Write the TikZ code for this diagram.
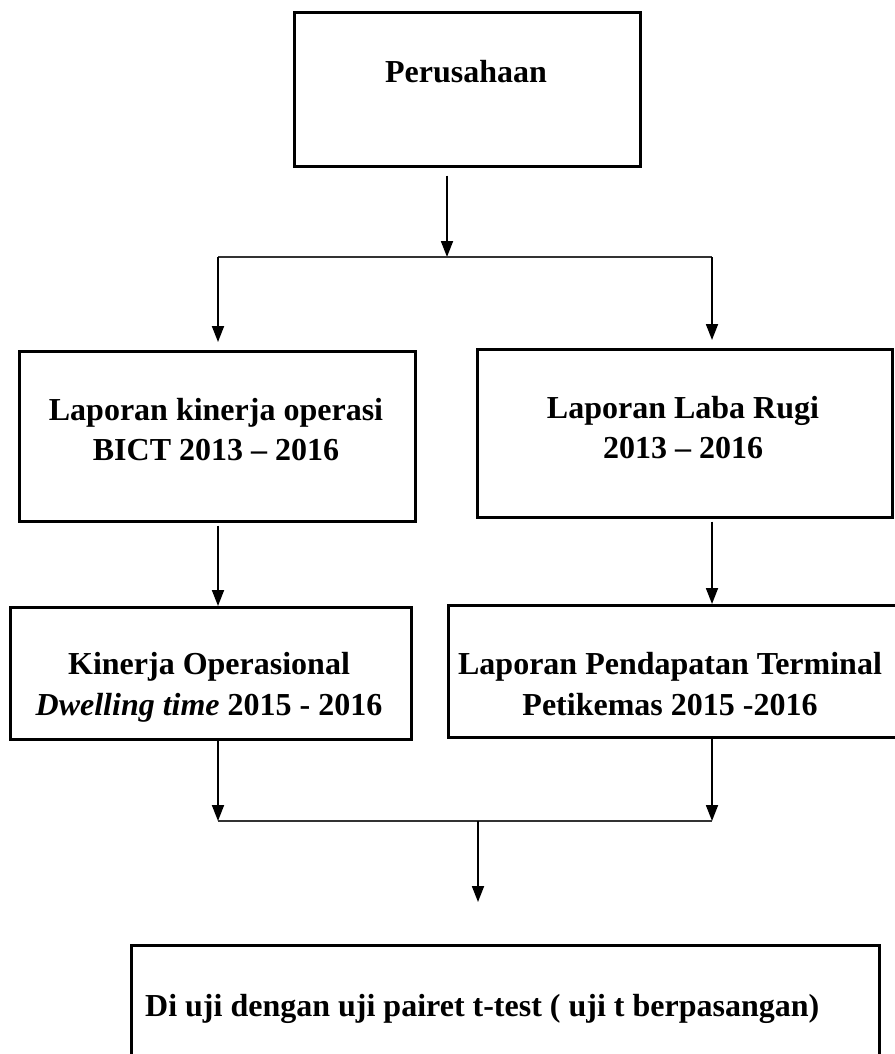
\documentclass[tikz,border=0pt]{standalone}
\usepackage{fontspec}
\setmainfont{Liberation Serif}
\usetikzlibrary{arrows.meta}
\begin{document}
\begin{tikzpicture}[x=1pt,y=-1pt,
  boxnode/.style={draw, line width=2.6pt, rectangle, inner sep=0pt, anchor=north west},
  txt/.style={font=\fontsize{32}{40}\selectfont\bfseries, inner sep=0pt, anchor=base},
  arr/.style={line width=1.8pt, -{Triangle[width=12pt,length=16pt]}},
  hline/.style={line width=1.8pt, black!80}]
\useasboundingbox[fill=white] (0,0) rectangle (894,1054);

% boxes
\node[boxnode, minimum width=346pt, minimum height=154pt] (perus) at (293,11) {};
\node[boxnode, minimum width=396pt, minimum height=170pt] (b1l) at (18,350) {};
\node[boxnode, minimum width=415pt, minimum height=168pt] (b1r) at (476,348) {};
\node[boxnode, minimum width=401pt, minimum height=132pt] (b2l) at (9,606) {};
\node[boxnode, minimum width=460pt, minimum height=132pt] (b2r) at (447,604) {};
\node[boxnode, minimum width=748pt, minimum height=130pt] (fin) at (130,944) {};

% texts
\node[txt] (tperus) at (466,83) {Perusahaan};
\node[txt] (t1la) at (216,420) {Laporan kinerja operasi};
\node[txt] (t1lb) at (216,460) {BICT 2013 – 2016};
\node[txt] (t1ra) at (683,418) {Laporan Laba Rugi};
\node[txt] (t1rb) at (683,458) {2013 – 2016};
\node[txt] (t2la) at (209,674) {Kinerja Operasional};
\node[txt] (t2lb) at (209,715) {{\itshape Dwelling time} 2015 - 2016};
\node[txt] (t2ra) at (670,674) {Laporan Pendapatan Terminal};
\node[txt] (t2rb) at (670,715) {Petikemas 2015 -2016};
\node[txt, anchor=base west] (tfin) at (145,1016) {Di uji dengan uji pairet t-test ( uji t berpasangan)};

% junction coordinates
\coordinate (j0) at (447,257);
\coordinate (jl) at (218,257);
\coordinate (jr) at (712,257);
\coordinate (kl) at (218,821);
\coordinate (kr) at (712,821);
\coordinate (km) at (478,821);

% connectors
\draw[arr, shorten <=8pt] (perus.south -| j0) -- (j0);
\draw[hline] (jl) -- (jr);
\draw[arr, shorten >=8pt] (jl) -- (jl |- b1l.north);
\draw[arr, shorten >=8pt] (jr) -- (jr |- b1r.north);
\draw[arr, shorten <=3pt] (b1l.south -| jl) -- (jl |- b2l.north);
\draw[arr, shorten <=3pt] (b1r.south -| jr) -- (jr |- b2r.north);
\draw[arr] (b2l.south -| kl) -- (kl);
\draw[arr] (b2r.south -| kr) -- (kr);
\draw[hline] (kl) -- (kr);
\draw[arr, shorten >=42pt] (km) -- (km |- fin.north);
\end{tikzpicture}
\end{document}
